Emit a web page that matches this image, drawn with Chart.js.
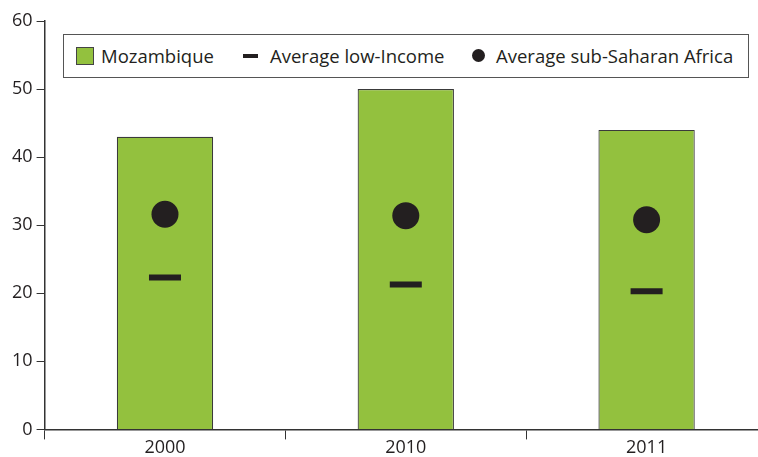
<!DOCTYPE html>
<html>
<head>
<meta charset="utf-8">
<script src="https://cdn.jsdelivr.net/npm/chart.js@4"></script>
<style>
  html, body { margin: 0; padding: 0; background: #fff; overflow: hidden; }
  #chart { position: absolute; left: 0; top: 0; }
  #legend {
    position: absolute; left: 63px; top: 34px; width: 684px; height: 42px;
    border: 1.5px solid #555; background: #fff;
    font-family: "Open Sans", sans-serif; font-size: 18.5px; color: #231f20;
  }
  #legend span { position: absolute; top: 8px; white-space: nowrap; }
  .sw { position: absolute; }
</style>
</head>
<body>
<canvas id="chart" width="767" height="457"></canvas>
<div id="legend">
  <div class="sw" style="left:12px;top:12px;width:16px;height:16px;background:#93c13e;border:1px solid #444;"></div>
  <span style="left:37px;">Mozambique</span>
  <div class="sw" style="left:179px;top:19px;width:15px;height:4px;background:#231f20;"></div>
  <span style="left:206px;">Average low-Income</span>
  <div class="sw" style="left:408px;top:14px;width:13px;height:13px;border-radius:50%;background:#231f20;"></div>
  <span style="left:432px;">Average sub-Saharan Africa</span>
</div>

<script>
var years = ["2000", "2010", "2011"];
var mozambique = [43, 50, 44];
var lowIncome = [22.3, 21.3, 20.3];
var subSaharan = [31.6, 31.4, 30.8];
var yTicks = [0, 10, 20, 30, 40, 50, 60];

var font = { family: "'Open Sans', sans-serif", size: 18 };

new Chart(document.getElementById("chart").getContext("2d"), {
  type: 'bar',
  data: {
    labels: years,
    datasets: [{
      type: 'line',
      label: 'Average sub-Saharan Africa',
      data: subSaharan,
      showLine: false,
      pointRadius: 13.5,
      pointBackgroundColor: '#231f20',
      pointBorderColor: '#231f20',
      pointBorderWidth: 0,
      order: 0
    }, {
      type: 'line',
      label: 'Average low-Income',
      data: lowIncome,
      showLine: false,
      pointStyle: 'line',
      pointRadius: 16,
      pointBorderWidth: 6,
      pointBorderColor: '#231f20',
      order: 1
    }, {
      label: 'Mozambique',
      data: mozambique,
      backgroundColor: '#93c13e',
      borderColor: '#3a3a3a',
      borderWidth: 1.2,
      barPercentage: 0.4,
      categoryPercentage: 1,
      order: 2
    }]
  },
  options: {
    responsive: false,
    animation: false,
    layout: { autoPadding: false, padding: { top: 21, right: 0, left: 8, bottom: 0 } },
    plugins: { legend: { display: false }, tooltip: { enabled: false } },
    scales: {
      x: {
        grid: { display: true, offset: true, drawOnChartArea: false, tickLength: 10, color: '#333' },
        border: { color: '#333', width: 1.5 },
        ticks: { color: '#231f20', font: font, padding: -2 }
      },
      y: {
        min: 0, max: 60,
        afterBuildTicks: function (axis) { axis.ticks = yTicks.map(function (v) { return { value: v }; }); },
        grid: { drawOnChartArea: false, tickLength: 8, color: '#333' },
        border: { color: '#333', width: 1.5 },
        ticks: { color: '#231f20', font: font, padding: 4 }
      }
    }
  }
});
</script>
</body>
</html>
